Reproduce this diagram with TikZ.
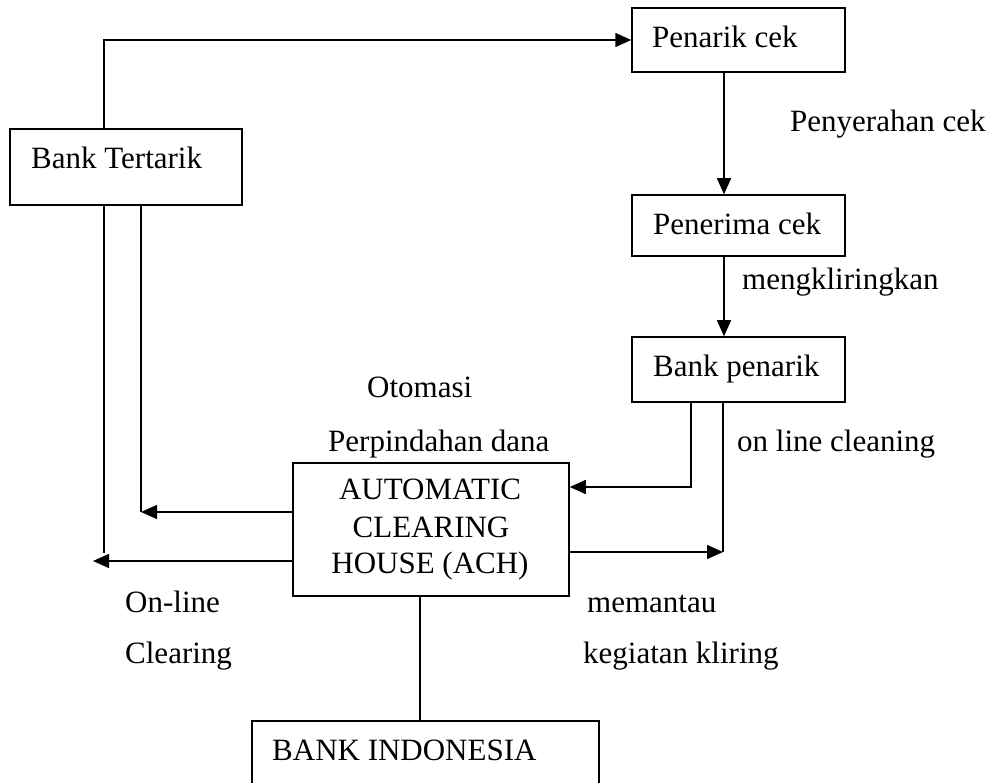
\documentclass[tikz,border=0pt]{standalone}
\usepackage{fontspec}
\setmainfont{Liberation Serif}
\usetikzlibrary{arrows.meta}
\begin{document}
\begin{tikzpicture}[x=1pt,y=-1pt,
  box/.style={draw, line width=1.5pt, rectangle, inner sep=0pt},
  txt/.style={inner sep=0pt, anchor=base west, font=\fontsize{31}{37}\selectfont},
  ctxt/.style={inner sep=0pt, anchor=base, font=\fontsize{31}{37}\selectfont},
  conn/.style={line width=1.5pt},
  arr/.style={line width=1.5pt, -{Triangle[length=16pt,width=14pt]}}]
\useasboundingbox (0,0) rectangle (990,783);
% boxes
\node[box, minimum width=232pt, minimum height=76pt] (btk) at (126,167) {};
\node[box, minimum width=213pt, minimum height=64pt] (pc) at (738.5,40) {};
\node[box, minimum width=213pt, minimum height=61pt] (pe) at (738.5,225.5) {};
\node[box, minimum width=213pt, minimum height=65pt] (bp) at (738.5,369.5) {};
\node[box, minimum width=276pt, minimum height=133pt] (ach) at (431,529.5) {};
\node[box, minimum width=347pt, minimum height=64pt] (bi) at (425.5,753) {};
% box texts
\node[txt] (tbtk) at (31,169) {Bank Tertarik};
\node[txt] (tpc) at (652,48) {Penarik cek};
\node[txt] (tpe) at (653,235) {Penerima cek};
\node[txt] (tbp) at (653,377) {Bank penarik};
\node[ctxt] (tach1) at (430,499) {AUTOMATIC};
\node[ctxt] (tach2) at (431,537) {CLEARING};
\node[ctxt] (tach3) at (430,573) {HOUSE (ACH)};
\node[txt] (tbi) at (272,760) {BANK INDONESIA};
% labels
\node[txt] (lps) at (790,132) {Penyerahan cek};
\node[txt] (lmk) at (742,290) {mengkliringkan};
\node[txt] (lot) at (367,397) {Otomasi};
\node[txt] (lpd) at (328,451) {Perpindahan dana};
\node[txt] (lol) at (737,451) {on line cleaning};
\node[txt] (lon) at (125,612) {On-line};
\node[txt] (lcl) at (125,663) {Clearing};
\node[txt] (lme) at (587,612) {memantau};
\node[txt] (lkk) at (583,663) {kegiatan kliring};
% coordinates
\coordinate (ta) at (104,40);
\coordinate (vx) at (724,0);
\coordinate (l1) at (104,553);
\coordinate (l2) at (141,512);
\coordinate (l3) at (93,561);
\coordinate (r1) at (691,487);
\coordinate (r2) at (723,552);
\coordinate (bx) at (420,0);
% connectors
\draw[arr] (btk.north -| ta) |- (pc.west);
\draw[arr] (pc.south -| vx) -- (pe.north -| vx);
\draw[arr] (pe.south -| vx) -- (bp.north -| vx);
\draw[conn] (btk.south -| l1) -- (l1);
\draw[conn] (btk.south -| l2) -- (l2);
\draw[arr] (ach.west |- l2) -- (l2);
\draw[arr] (ach.west |- l3) -- (l3);
\draw[arr] (bp.south -| r1) |- (ach.east |- r1);
\draw[conn] (bp.south -| r2) -- (r2);
\draw[arr] (ach.east |- r2) -- (r2);
\draw[conn] (ach.south -| bx) -- (bi.north -| bx);
\end{tikzpicture}
\end{document}
